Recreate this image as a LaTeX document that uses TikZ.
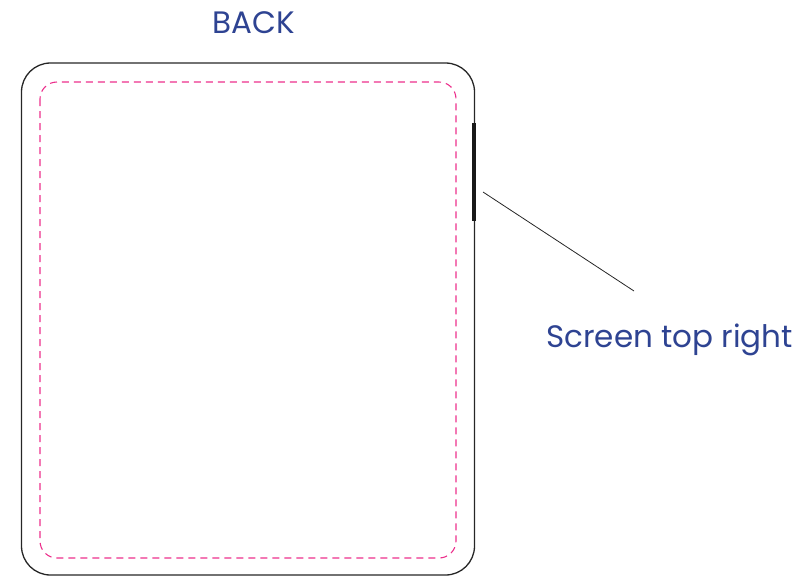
\documentclass[tikz,border=0pt]{standalone}
\usepackage{fontspec}
\setmainfont{Poppins}
\usepackage{tikz}
\definecolor{labelblue}{RGB}{46,67,146}
\definecolor{cutpink}{RGB}{236,48,140}

\begin{document}
\begin{tikzpicture}[x=1pt,y=-1pt]
\useasboundingbox (0,0) rectangle (811,576);
\tikzset{lbl/.style={text=labelblue,font=\fontsize{31}{35}\selectfont,inner sep=0pt}}
% outline of the back
\draw[line width=1.3pt,black!85,rounded corners=29pt] (21.5,63) rectangle (474.5,575);
\draw[cutpink,line width=1.1pt,dash pattern=on 7pt off 5pt,rounded corners=17pt] (40,82) rectangle (456,558);
% screen button
\draw[line width=4pt,black!90] (474,123) -- (474,221);
\coordinate (btn) at (483,192);
\node[lbl,anchor=base] (back) at (254,33) {BACK};
\node[lbl,anchor=base west] (screen) at (546,347) {Screen top right};
\coordinate (tip) at (634,291);
\draw[line width=0.8pt,black!85] (btn) -- (tip);
\end{tikzpicture}
\end{document}
